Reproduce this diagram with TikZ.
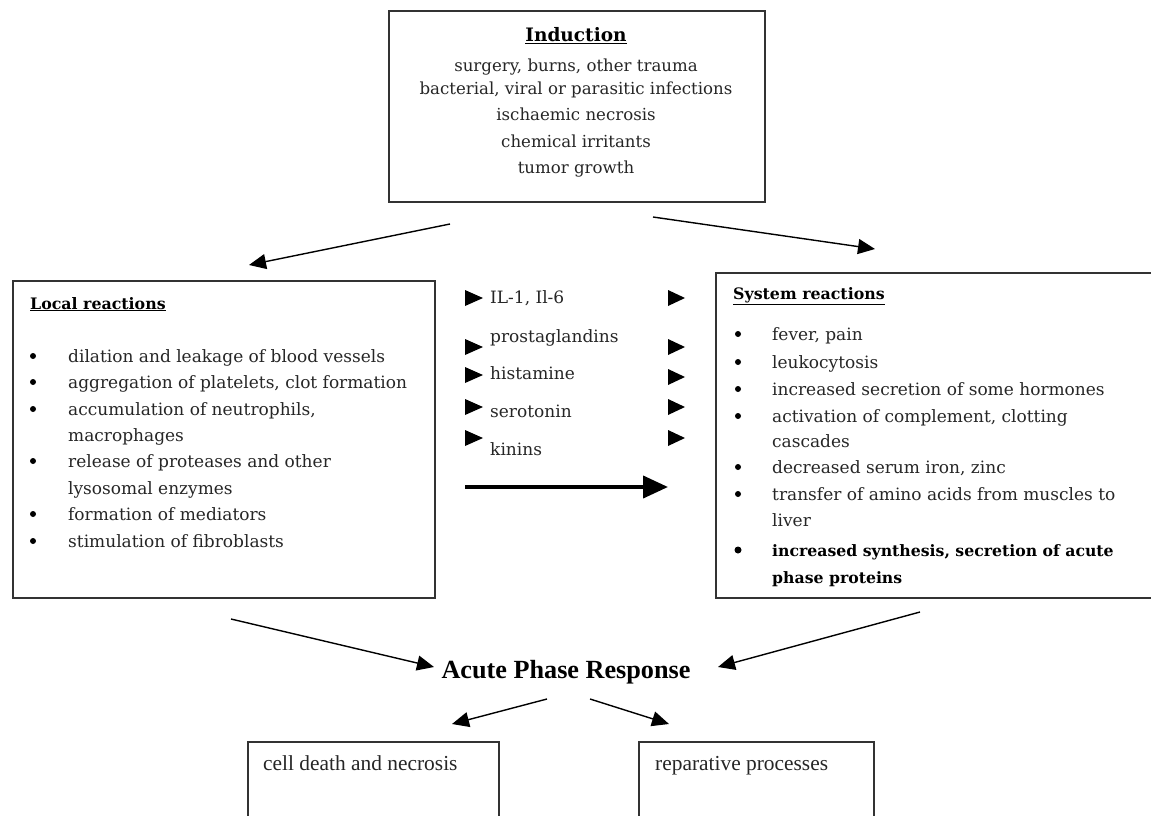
\documentclass[tikz,border=0pt]{standalone}
\usepackage{fontspec}
\setmainfont{DejaVu Serif}
\newfontfamily\timesf{Liberation Serif}
\usetikzlibrary{arrows.meta}
\begin{document}
\begin{tikzpicture}[x=1pt,y=-1pt,
  box/.style={draw=black!80, line width=1.6pt, inner sep=0, anchor=north west},
  body/.style={anchor=base west, inner sep=0, font=\fontsize{17}{19}\selectfont, text=black!85},
  bodyb/.style={body, font=\fontsize{15.7}{18}\selectfont\bfseries, text=black},
  indt/.style={anchor=base, inner sep=0, font=\fontsize{16.6}{18}\selectfont, text=black!85},
  ttl/.style={anchor=base west, inner sep=0, font=\fontsize{15.8}{18}\selectfont\bfseries},
  tms/.style={anchor=base west, inner sep=0, font=\timesf\fontsize{21.4}{23}\selectfont, text=black!85},
  conn/.style={line width=1.4pt, -{Triangle[length=17pt,width=15pt]}},
  tri/.style={fill=black}
]
\clip (0,0) rectangle (1151,816);
\fill[white] (0,0) rectangle (1151,816);

% boxes
\node[box, minimum width=376, minimum height=191] (ind) at (388,10) {};
\node[box, minimum width=422, minimum height=317] (loc) at (12,280) {};
\node[box, minimum width=460, minimum height=325] (sys) at (715,272) {};
\node[box, minimum width=251, minimum height=120] (cd) at (247,741) {};
\node[box, minimum width=235, minimum height=120] (rp) at (638,741) {};

% induction text
\node[anchor=base, inner sep=0, font=\fontsize{18.5}{20}\selectfont\bfseries] (indtitle) at (576,42) {\underline{Induction}};
\node[indt] (i1) at (576,71) {surgery, burns, other trauma};
\node[indt] (i2) at (576,95) {bacterial, viral or parasitic infections};
\node[indt] (i3) at (576,120) {ischaemic necrosis};
\node[indt] (i4) at (576,147) {chemical irritants};
\node[indt] (i5) at (576,173) {tumor growth};

% local reactions
\node[ttl] (loctitle) at (30,309) {\underline{Local reactions}};
\foreach \y/\t/\b [count=\i] in {362/{dilation and leakage of blood vessels}/1,
  388/{aggregation of platelets, clot formation}/1,
  415/{accumulation of neutrophils,}/1,
  441/{macrophages}/0,
  467/{release of proteases and other}/1,
  494/{lysosomal enzymes}/0,
  520/{formation of mediators}/1,
  547/{stimulation of fibroblasts}/1}{
  \node[body] (l\i) at (68,\y) {\t};
  \ifnum\b=1 \fill (33,\y-6) circle (3pt); \fi
}

% system reactions
\node[ttl] (systitle) at (733,299) {\underline{System reactions}};
\foreach \y/\t/\b [count=\i] in {340/{fever, pain}/1,
  368/{leukocytosis}/1,
  395/{increased secretion of some hormones}/1,
  422/{activation of complement, clotting}/1,
  447/{cascades}/0,
  473/{decreased serum iron, zinc}/1,
  500/{transfer of amino acids from muscles to}/1,
  526/{liver}/0}{
  \node[body] (s\i) at (772,\y) {\t};
  \ifnum\b=1 \fill (738,\y-6) circle (3pt); \fi
}
\node[bodyb] (s9) at (772,556) {increased synthesis, secretion of acute};
\node[bodyb] (s10) at (772,583) {phase proteins};
\fill (738,550) circle (3.5pt);

% mediators
\node[body] (m1) at (490,303) {IL-1, Il-6};
\node[body] (m2) at (490,342) {prostaglandins};
\node[body] (m3) at (490,379) {histamine};
\node[body] (m4) at (490,417) {serotonin};
\node[body] (m5) at (490,455) {kinins};
\foreach \y in {298,347,375,407,438}{
  \fill[tri] (465,\y-8) -- (483,\y) -- (465,\y+8) -- cycle;
}
\foreach \y in {298,347,377,407,438}{
  \fill[tri] (668,\y-8) -- (685,\y) -- (668,\y+8) -- cycle;
}
\coordinate (bigs) at (465,487);
\coordinate (bige) at (668,487);
\draw[line width=4pt, -{Triangle[length=25pt,width=22pt]}] (bigs) -- (bige);

% acute phase
\node[anchor=base, inner sep=0, font=\timesf\fontsize{26.2}{28}\selectfont\bfseries] (apr) at (566,678) {Acute Phase Response};

% bottom texts
\node[tms] (cdt) at (263,770) {cell death and necrosis};
\node[tms] (rpt) at (655,770) {reparative processes};

% connectors
\coordinate (a1s) at (450,224); \coordinate (a1e) at (249,265);
\coordinate (a2s) at (653,217); \coordinate (a2e) at (875,249);
\coordinate (a3s) at (231,619); \coordinate (a3e) at (434,667);
\coordinate (a4s) at (920,612); \coordinate (a4e) at (718,667);
\coordinate (a5s) at (547,699); \coordinate (a5e) at (452,724);
\coordinate (a6s) at (590,699); \coordinate (a6e) at (669,724);
\draw[conn] (a1s) -- (a1e);
\draw[conn] (a2s) -- (a2e);
\draw[conn] (a3s) -- (a3e);
\draw[conn] (a4s) -- (a4e);
\draw[conn] (a5s) -- (a5e);
\draw[conn] (a6s) -- (a6e);
\end{tikzpicture}
\end{document}
